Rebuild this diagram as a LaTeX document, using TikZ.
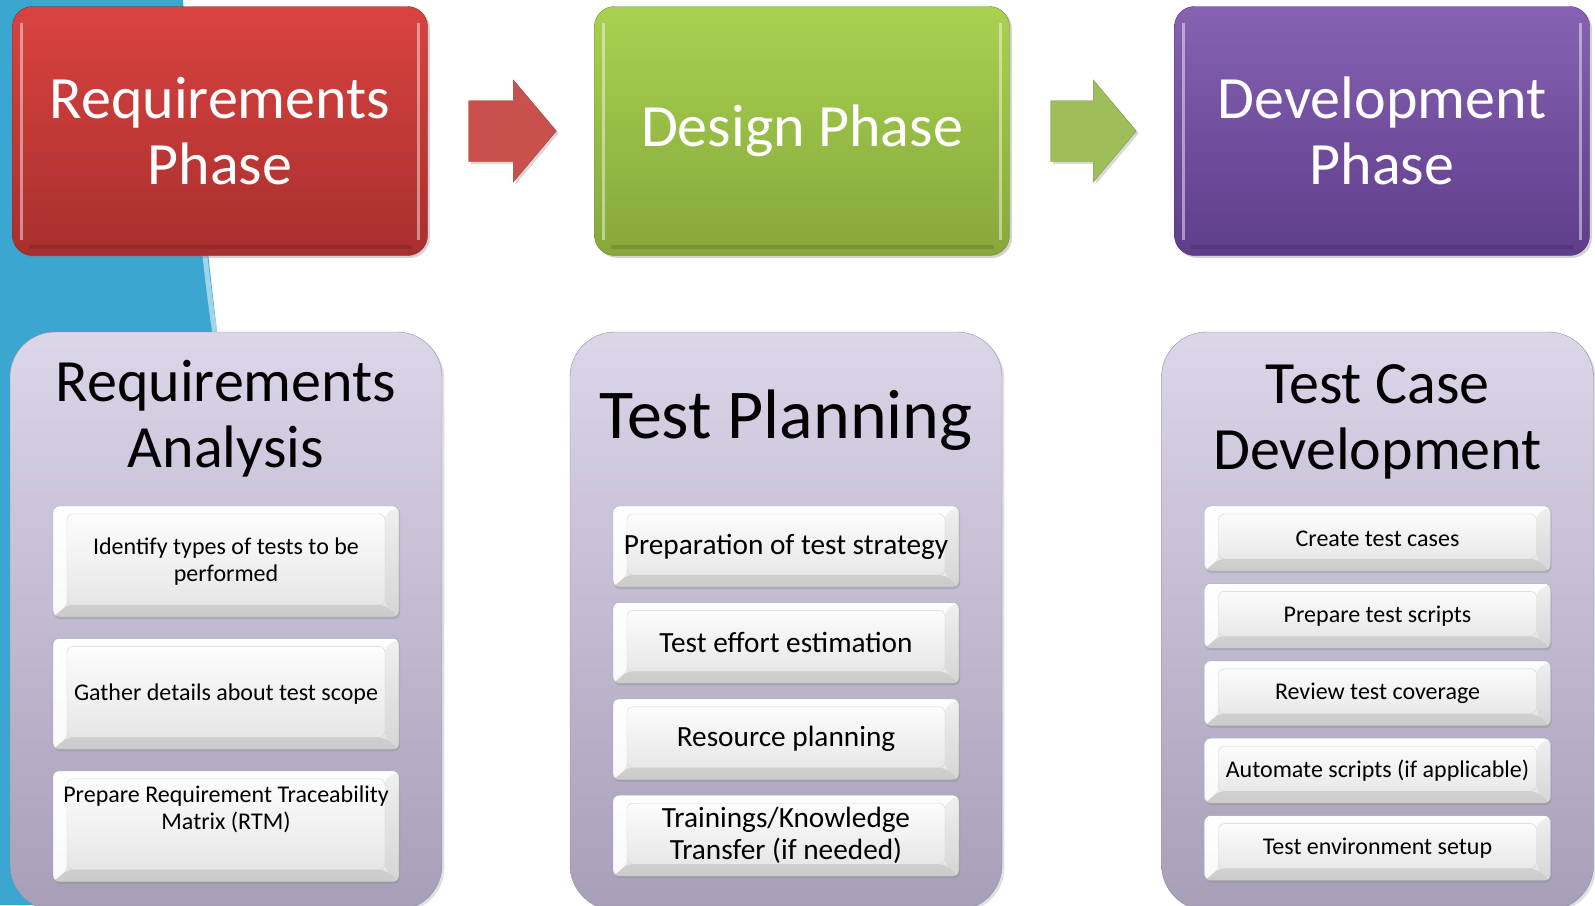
\documentclass[tikz,border=0pt]{standalone}
\usepackage{fontspec}
\setmainfont{Carlito}
\usepackage{tikz}
\usetikzlibrary{calc}
\usetikzlibrary{positioning,shadows}

\definecolor{bgblue}{HTML}{3BA6CF}
\definecolor{redtop}{HTML}{D9433F}
\definecolor{redbot}{HTML}{A82F2E}
\definecolor{greentop}{HTML}{A9D150}
\definecolor{greenbot}{HTML}{86A83B}
\definecolor{purpletop}{HTML}{8762B3}
\definecolor{purplebot}{HTML}{5E3D8A}
\definecolor{cardtop}{HTML}{DCD6E9}
\definecolor{cardbot}{HTML}{A79EB8}
\definecolor{arrowred}{HTML}{C8504D}
\definecolor{arrowgreen}{HTML}{9DBE59}

% block arrow between two coordinates: style, tail, tip
\newcommand{\blockarrow}[3]{%
  \path[#1] ($(#2)+(0,-30.5)$) -- ($(#3)+(-43,-30.5)$) -- ($(#3)+(-43,-51)$) -- (#3)
    -- ($(#3)+(-43,51)$) -- ($(#3)+(-43,30.5)$) -- ($(#2)+(0,30.5)$) -- cycle;}

\begin{document}
\begin{tikzpicture}[x=1pt,y=-1pt,
    phase/.style n args={2}{rectangle,rounded corners=20pt,top color=#1,bottom color=#2,draw=#2!85!black,
      minimum width=415pt,minimum height=249pt,inner sep=0pt,text=white,align=center,
      font=\fontsize{60}{66}\selectfont,drop shadow={opacity=.35},
      path picture={
        \path (path picture bounding box.north west) coordinate (pp1)
              (path picture bounding box.south east) coordinate (pp2);
        \draw[white,opacity=.45,line width=3pt] ($(pp1)+(9,16)$) -- ($(pp1|-pp2)+(9,-16)$);
        \draw[white,opacity=.45,line width=3pt] ($(pp2|-pp1)+(-9,16)$) -- ($(pp2)+(-9,-16)$);
        \draw[black,opacity=.12,line width=4pt] ($(pp1|-pp2)+(16,-9)$) -- ($(pp2)+(-16,-9)$);}},
    card/.style={rectangle,rounded corners=45pt,top color=cardtop,bottom color=cardbot,draw=cardbot!90!black,
      minimum width=432pt,minimum height=578pt,drop shadow={opacity=.25}},
    cardtitle/.style={font=\fontsize{#1}{66}\selectfont,align=center,inner sep=0pt},
    item/.style={rectangle,rounded corners=6pt,draw=gray!70,top color=white,bottom color=gray!22,
      minimum width=346pt,align=center,inner sep=0pt,
      drop shadow={opacity=.3,shadow xshift=1pt,shadow yshift=-2pt},
      path picture={
        \path (path picture bounding box.north west) coordinate (pp1)
              (path picture bounding box.south east) coordinate (pp2);
        \fill[black,opacity=.10] (pp1|-pp2) -- (pp2) -- ($(pp2)+(-14,-12)$) -- ($(pp1|-pp2)+(14,-12)$) -- cycle;
        \fill[black,opacity=.06] (pp2|-pp1) -- (pp2) -- ($(pp2)+(-14,-12)$) -- ($(pp2|-pp1)+(-14,8)$) -- cycle;
        \fill[white,opacity=.8] (pp1) -- (pp1|-pp2) -- ($(pp1|-pp2)+(14,-12)$) -- ($(pp1)+(14,8)$) -- cycle;
        \draw[gray!35] ($(pp1)+(14,8)$) rectangle ($(pp2)+(-14,-12)$);}},
    itemL/.style={item,minimum height=111pt,font=\fontsize{24}{27}\selectfont},
    itemM/.style={item,minimum height=81pt,font=\fontsize{29.3}{32}\selectfont},
    itemR/.style={item,minimum height=65pt,font=\fontsize{24}{27}\selectfont}]
  \useasboundingbox (0,0) rectangle (1595,905);

  % background swoosh
  \fill[bgblue] (0,0) -- (183,0) .. controls (192,110) and (205,230) .. (218,340) -- (218,905) -- (0,905) -- cycle;
  \draw[bgblue!35,line width=5pt,opacity=.8] (194,150) .. controls (202,230) and (208,290) .. (216,340);

  % phases
  \node[phase={redtop}{redbot}]       (req) at (220,131)  {Requirements\\Phase};
  \node[phase={greentop}{greenbot}]   (des) at (802,131)  {Design Phase};
  \node[phase={purpletop}{purplebot}] (dev) at (1382,131) {Development\\Phase};

  \coordinate (a1s) at ($(req.east)+(41,0)$);
  \coordinate (a1e) at ($(des.west)+(-38,0)$);
  \coordinate (a2s) at ($(des.east)+(41,0)$);
  \coordinate (a2e) at ($(dev.west)+(-38,0)$);
  \blockarrow{fill=arrowred,draw=arrowred!80!black,drop shadow={opacity=.3}}{a1s}{a1e}
  \blockarrow{fill=arrowgreen,draw=arrowgreen!80!black,drop shadow={opacity=.3}}{a2s}{a2e}

  % activities
  \node[card] (c1) at (226,621)    {};
  \node[card] (c2) at (786,621)    {};
  \node[card] (c3) at (1377.5,621) {};

  \node[cardtitle=60,anchor=north] (t1) at ($(c1.north)+(0,28)$) {Requirements\\Analysis};
  \node[cardtitle=70,anchor=north] (t2) at ($(c2.north)+(0,58)$) {Test Planning};
  \node[cardtitle=60,anchor=north] (t3) at ($(c3.north)+(0,33)$) {Test Case\\Development};

  \node[itemL,anchor=north] (r1) at ($(c1.north)+(0,174)$) {Identify types of tests to be\\performed};
  \node[itemL,below=21pt of r1] (r2) {Gather details about test scope};
  \node[itemL,below=21pt of r2] (r3) {Prepare Requirement Traceability\\Matrix (RTM)\rule[-38pt]{0pt}{0pt}};

  \node[itemM,anchor=north] (p1) at ($(c2.north)+(0,174)$) {Preparation of test strategy};
  \node[itemM,below=15pt of p1] (p2) {Test effort estimation};
  \node[itemM,below=15pt of p2] (p3) {Resource planning};
  \node[itemM,below=15pt of p3] (p4) {Trainings/Knowledge\\Transfer (if needed)};

  \node[itemR,anchor=north] (d1) at ($(c3.north)+(0,174)$) {Create test cases};
  \node[itemR,below=12pt of d1] (d2) {Prepare test scripts};
  \node[itemR,below=12pt of d2] (d3) {Review test coverage};
  \node[itemR,below=12pt of d3] (d4) {Automate scripts (if applicable)};
  \node[itemR,below=12pt of d4] (d5) {Test environment setup};
\end{tikzpicture}
\end{document}
